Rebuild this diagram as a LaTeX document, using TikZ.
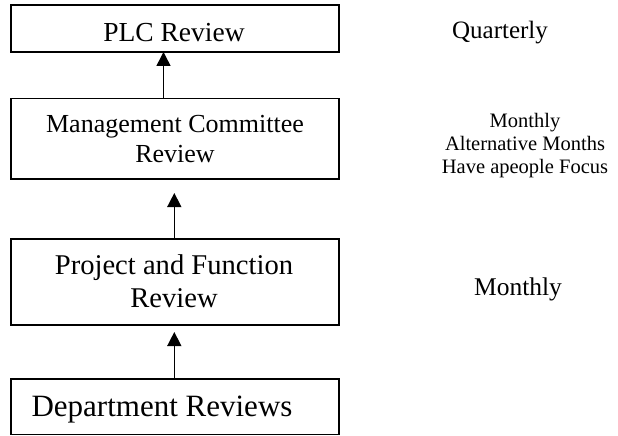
\documentclass[tikz,border=0pt]{standalone}
\usepackage{fontspec}
\setmainfont{Liberation Serif}
\usetikzlibrary{arrows.meta}
\begin{document}
\begin{tikzpicture}[x=1pt,y=-1pt,
  box/.style={draw, line width=1.5pt, minimum width=328pt, minimum height=#1, inner sep=0pt, outer sep=0pt},
  arr/.style={line width=1.5pt, -{Triangle[width=14pt,length=14pt]}},
  txt/.style={inner sep=0pt, anchor=base, align=center}
]
\useasboundingbox (0,0) rectangle (618,436);
% boxes
\node[box=47pt]   (plc)  at (175,28.5)  {};
\node[box=80.3pt] (mgmt) at (175,138.85) {};
\node[box=86pt]   (proj) at (175,282)   {};
\node[box=55.5pt] (dept) at (175,406.75) {};
% box texts (base anchor = baseline of last line)
\node[txt, font=\fontsize{27.5}{33}\selectfont] (tplc) at (174,41.7) {PLC Review};
\node[txt, font=\fontsize{26}{30}\selectfont] (tmgmt) at (175,162.7) {Management Committee\\Review};
\node[txt, font=\fontsize{28.6}{33.3}\selectfont] (tproj) at (174,307.3) {Project and Function\\Review};
\node[txt, font=\fontsize{31}{36}\selectfont] (tdept) at (162,416.7) {Department Reviews};
% arrows
\draw[arr] ([xshift=-11.5pt]mgmt.north) -- ([xshift=-11.5pt]plc.south);
\draw[arr] ([xshift=-0.7pt]proj.north) -- ([xshift=-0.7pt,yshift=-14pt]mgmt.south);
\draw[arr] ([xshift=-0.7pt]dept.north) -- ([xshift=-0.7pt,yshift=-7pt]proj.south);
% right labels
\node[txt, font=\fontsize{25}{30}\selectfont] (q) at (500,38) {Quarterly};
\node[txt, font=\fontsize{20.5}{23}\selectfont] (m1) at (525,173) {Monthly\\Alternative Months\\Have apeople Focus};
\node[txt, font=\fontsize{25.5}{30}\selectfont] (m2) at (518,295) {Monthly};
\end{tikzpicture}
\end{document}
